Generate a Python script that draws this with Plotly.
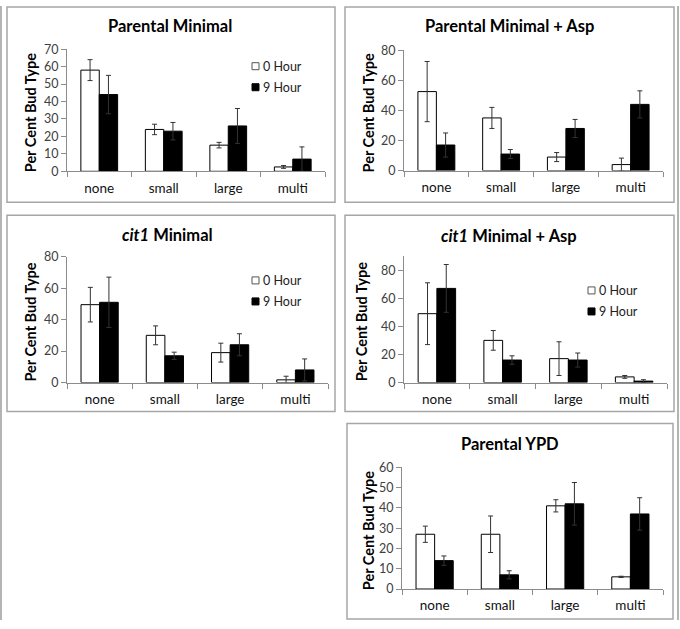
import plotly.graph_objects as go

W, H = 680, 629

categories = ["none", "small", "large", "multi"]

# Parental Minimal
pm_0h = [58, 24, 15, 2.5]
pm_0h_err = [6, 3, 1.6, 0.8]
pm_9h = [44, 23, 26, 7]
pm_9h_err = [11, 5, 10, 7]

# Parental Minimal + Asp
pma_0h = [52.5, 35, 9, 4]
pma_0h_err = [20, 7, 3, 4.3]
pma_9h = [17, 11, 28, 44]
pma_9h_err = [8, 3, 6, 9]

# cit1 Minimal
cm_0h = [49.5, 30, 19, 1.7]
cm_0h_err = [11, 6, 6, 2.3]
cm_9h = [51, 17, 24, 8]
cm_9h_err = [16, 2.3, 7, 7]

# cit1 Minimal + Asp
cma_0h = [49, 30, 17, 4]
cma_0h_err = [22, 7, 12, 1]
cma_9h = [67, 16, 16, 1]
cma_9h_err = [17, 3, 5, 1]

# Parental YPD
ypd_0h = [27, 27, 41, 6]
ypd_0h_err = [4, 9, 3, 0.3]
ypd_9h = [14, 7, 42, 37]
ypd_9h_err = [2.3, 2, 10.5, 8]

series_names = ["0 Hour", "9 Hour"]

panels = [
    dict(title="<b>Parental Minimal</b>", d0=pm_0h, e0=pm_0h_err, d9=pm_9h, e9=pm_9h_err,
         ymax=70, dtick=10, px=(67, 325), py=(49, 171), tpos=(170, 26), ypos=30, legend=(252, 66)),
    dict(title="<b>Parental Minimal + Asp</b>", d0=pma_0h, e0=pma_0h_err, d9=pma_9h, e9=pma_9h_err,
         ymax=80, dtick=20, px=(404, 663), py=(50, 170.3), tpos=(509, 26), ypos=368, legend=None),
    dict(title="<b><i>cit1</i> Minimal</b>", d0=cm_0h, e0=cm_0h_err, d9=cm_9h, e9=cm_9h_err,
         ymax=80, dtick=20, px=(67, 328), py=(256.3, 382), tpos=(167, 235), ypos=31, legend=(252, 280)),
    dict(title="<b><i>cit1</i> Minimal + Asp</b>", d0=cma_0h, e0=cma_0h_err, d9=cma_9h, e9=cma_9h_err,
         ymax=90, dtick=20, px=(404, 667), py=(255.7, 382), tpos=(509, 236), ypos=361, legend=(588, 290)),
    dict(title="<b>Parental YPD</b>", d0=ypd_0h, e0=ypd_0h_err, d9=ypd_9h, e9=ypd_9h_err,
         ymax=60, dtick=10, px=(402, 663), py=(466.7, 588.3), tpos=(510, 443), ypos=368, legend=None),
]

boxes = [(7, 5, 335, 202), (345, 5, 674, 202), (7, 215, 335, 411), (345, 215, 674, 411), (347, 423, 673, 620)]

FONT = "Lato"
AXIS_GRAY = "#8c8c8c"
ERR = "#333333"

# vertical placement calibration for the capture (page is shown slightly squeezed vertically)
VS = 629 / 645
VOFF = 6


def fx(px):
    return px / W


def ppx(py):
    return py / VS - VOFF


def fy(py):
    return 1 - ppx(py) / H


def fy_clamped(py):
    return 1 - min(max(ppx(py), 1.0), H - 1.0) / H


fig = go.Figure()
annotations = []
shapes = []
layout = {}

for i, p in enumerate(panels):
    n = "" if i == 0 else str(i + 1)
    xa, ya = "x" + n, "y" + n
    fig.add_trace(go.Bar(
        x=categories, y=p["d0"], name=series_names[0], xaxis=xa, yaxis=ya,
        marker=dict(color="white", line=dict(color="black", width=1)),
        error_y=dict(type="data", array=p["e0"], visible=True, color=ERR, thickness=1, width=2.5),
        showlegend=False))
    fig.add_trace(go.Bar(
        x=categories, y=p["d9"], name=series_names[1], xaxis=xa, yaxis=ya,
        marker=dict(color="black", line=dict(color="black", width=1)),
        error_y=dict(type="data", array=p["e9"], visible=True, color=ERR, thickness=1, width=2.5),
        showlegend=False))
    layout["xaxis" + n] = dict(
        domain=[fx(p["px"][0]), fx(p["px"][1])], anchor=ya, type="category",
        showline=True, linecolor=AXIS_GRAY, linewidth=1, ticks="outside", tickson="boundaries",
        ticklen=5, tickcolor=AXIS_GRAY, showgrid=False, zeroline=False,
        tickfont=dict(family=FONT, size=13.5, color="#111111"), ticklabelstandoff=4, fixedrange=True)
    layout["yaxis" + n] = dict(
        domain=[fy(p["py"][1]), fy(p["py"][0])], anchor=xa, range=[0, p["ymax"]],
        dtick=p["dtick"], tick0=0, showline=True, linecolor=AXIS_GRAY, linewidth=1,
        ticks="outside", ticklen=5, tickcolor=AXIS_GRAY, showgrid=False, zeroline=False,
        tickfont=dict(family=FONT, size=12.5, color="#404040"), fixedrange=True)
    annotations.append(dict(
        x=fx(p["tpos"][0]), y=fy(p["tpos"][1]), xref="paper", yref="paper", text=p["title"],
        showarrow=False, font=dict(family=FONT, size=16.5, color="black"),
        xanchor="center", yanchor="middle"))
    annotations.append(dict(
        x=fx(p["ypos"]), y=fy((p["py"][0] + p["py"][1]) / 2 + 3), xref="paper", yref="paper",
        text="<b>Per Cent Bud Type</b>", textangle=-90, showarrow=False,
        font=dict(family=FONT, size=14.5, color="black"), xanchor="center", yanchor="middle"))
    if p["legend"]:
        lx, ly = p["legend"]
        for k, (nm, col) in enumerate(zip(series_names, ["white", "black"])):
            cy = ly + k * 21
            shapes.append(dict(type="rect", xref="paper", yref="paper",
                               x0=fx(lx), x1=fx(lx + 7), y0=fy(cy + 3.5), y1=fy(cy - 3.5),
                               fillcolor=col, line=dict(color="#555555" if col == "white" else "black", width=1)))
            annotations.append(dict(
                x=fx(lx + 9), y=fy(cy), xref="paper", yref="paper", text=nm, showarrow=False,
                font=dict(family=FONT, size=12.5, color="#222222"), xanchor="left", yanchor="middle"))

for (x0, y0, x1, y1) in boxes:
    shapes.append(dict(type="rect", xref="paper", yref="paper",
                       x0=fx(x0), x1=fx(x1), y0=fy_clamped(y1), y1=fy_clamped(y0),
                       line=dict(color="#a6a6a6", width=1.5), fillcolor="rgba(0,0,0,0)"))
# outer frame sides
for xx in (1, 678):
    shapes.append(dict(type="line", xref="paper", yref="paper", x0=fx(xx), x1=fx(xx), y0=0, y1=1,
                       line=dict(color="#b4b4b4", width=2)))

fig.update_layout(
    width=W, height=H, margin=dict(l=0, r=0, t=0, b=0), autosize=False,
    paper_bgcolor="white", plot_bgcolor="white",
    barmode="group", bargap=0.43, bargroupgap=0,
    annotations=annotations, shapes=shapes, showlegend=False,
    **layout)

post = (
    "var de=document.documentElement, b=document.body;"
    "de.style.margin='0';b.style.margin='0';"
    "var gd=document.getElementById('{plot_id}');"
    "gd.style.position='absolute';gd.style.left='0px';gd.style.top='-2px';"
)

fig.write_html("out.html", config={"displayModeBar": False}, post_script=post)
